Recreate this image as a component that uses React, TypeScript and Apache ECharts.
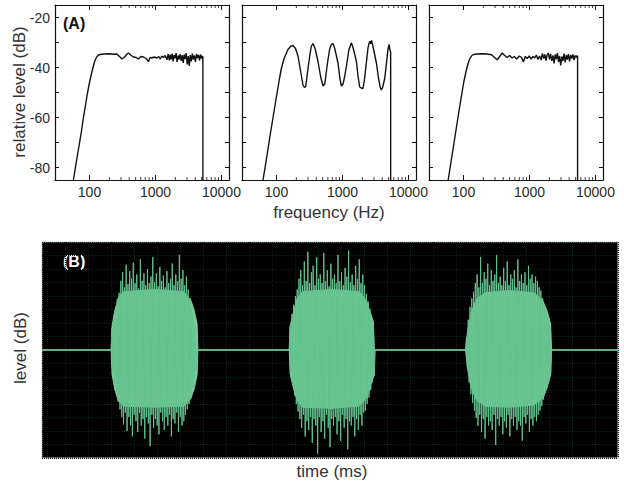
import React, { useEffect, useRef } from "react";
import * as echarts from "echarts";

// ---------- data ----------
const freqMin = 30;
const freqMax = 13000;
const levelMin = -85;
const levelMax = -15;
const minorFreqTicks = [200, 300, 400, 500, 600, 700, 800, 900, 2000, 3000, 4000, 5000, 6000, 7000, 8000, 9000];
const levelTicks = [-80, -70, -60, -50, -40, -30, -20];
const levelLabels = [-80, -60, -40, -20];

// [frequency (Hz), relative level (dB)]
const spectrumLeft: [number, number][] = [
  [54, -90], [57, -85], [62, -79], [68, -72.7], [75, -66], [81, -60], [87, -55], [93, -50.4], [100, -46],
  [109, -41.6], [116, -38.8], [122, -36.9], [130, -35.6], [137, -35.0], [150, -34.7], [170, -34.6], [200, -34.5],
  [230, -34.7], [260, -34.6], [285, -35.6], [310, -36.6], [340, -35.8], [370, -34.6], [390, -34.2], [420, -35.0],
  [464, -35.8], [510, -36.0], [552, -36.6], [600, -35.6], [657, -35.8], [720, -36.4], [783, -37.6], [830, -36.0],
  [881, -36.2], [950, -35.8], [1050, -36.2], [1120, -35.6], [1178, -36.6], [1250, -35.4], [1322, -36.0],
  [1400, -35.2], [1489, -36.9], [1560, -34.6], [1620, -37.2], [1671, -34.9], [1730, -36.8], [1790, -34.4],
  [1850, -37.6], [1910, -35.0], [1980, -36.4], [2050, -34.2], [2120, -37.8], [2200, -35.2], [2280, -36.8],
  [2360, -34.6], [2450, -37.4], [2540, -35.0], [2630, -38.2], [2720, -34.8], [2820, -36.6], [2920, -34.2],
  [3030, -38.8], [3140, -35.4], [3250, -39.4], [3370, -35.0], [3490, -37.6], [3620, -34.4], [3750, -36.8],
  [3890, -35.2], [4030, -37.8], [4180, -34.6], [4330, -36.2], [4490, -35.0], [4650, -37.2], [4820, -34.8],
  [5000, -36.4], [5150, -35.4], [5224, -35.8], [5226, -90],
];

const spectrumMiddle: [number, number][] = [
  [59, -90], [62.4, -85], [70, -77], [79, -68], [88.6, -60], [100, -51.5], [110, -45], [118.6, -40.3],
  [130, -36.5], [149, -32.8], [165, -31.5], [178, -31.2], [195, -32.5], [212, -35.5], [232, -41.5], [252, -47.0],
  [265, -48.0], [277, -47.6], [295, -42], [318, -35.5], [337, -31.5], [357, -30.4], [385, -32.5], [425, -37.5],
  [465, -43.5], [507, -47.4], [540, -46.5], [590, -38.5], [640, -32.5], [679, -30.8], [718, -30.4], [765, -32.5],
  [855, -38.2], [910, -44], [961, -47.4], [1020, -46.6], [1080, -43.5], [1145, -39.6], [1250, -33], [1365, -30.1],
  [1460, -32.5], [1626, -37.6], [1730, -44], [1825, -47.8], [1930, -48.2], [2048, -48.4], [2160, -44.5],
  [2301, -38], [2440, -32], [2583, -29.5], [2680, -30.5], [2760, -29.2], [2838, -30.5], [3000, -33.5],
  [3264, -38.2], [3500, -44], [3700, -47.5], [3883, -49], [4050, -48], [4358, -44.5], [4650, -38], [4870, -33],
  [5070, -30.8], [5250, -33], [5370, -34], [5372, -90],
];

const spectrumRight: [number, number][] = [
  [55, -90], [58.6, -85], [64, -78.5], [70, -72], [77, -65], [83, -59.5], [89, -54.5], [95, -50], [101, -45.8],
  [110, -41.2], [117, -38.5], [124, -36.6], [133, -35.3], [142, -34.8], [160, -34.6], [190, -34.5], [224, -34.6], [267, -34.9],
  [295, -36.0], [324, -36.9], [355, -35.5], [386, -34.2], [420, -35.2], [459, -36.0], [500, -35.2], [545, -36.2],
  [590, -35.6], [640, -36.6], [700, -35.4], [760, -36.0], [810, -37.8], [860, -35.6], [920, -36.4], [990, -35.4],
  [1060, -36.6], [1130, -35.6], [1200, -36.2], [1270, -35.0], [1340, -36.8], [1420, -35.4], [1500, -37.0],
  [1570, -34.4], [1640, -36.4], [1710, -34.8], [1780, -37.2], [1850, -35.0], [1930, -34.2], [2010, -36.8],
  [2090, -34.6], [2180, -37.4], [2270, -35.2], [2360, -38.4], [2450, -34.8], [2550, -36.6], [2650, -34.2],
  [2750, -37.8], [2860, -35.4], [2970, -39.2], [3090, -35.6], [3210, -37.4], [3340, -34.4], [3470, -38.0],
  [3610, -35.0], [3750, -36.8], [3900, -34.6], [4050, -37.6], [4210, -35.0], [4380, -36.4], [4550, -34.8],
  [4730, -37.0], [4920, -35.2], [5100, -36.0], [5250, -35.2], [5355, -35.6], [5357, -90],
];

// waveform (B): time axis in ms, relative amplitude
const timeMax = 650;
const burstStartsMs = [79, 280, 479];
const burst1Pos = [0.20, 0.30, 0.39, 0.47, 0.53, 0.64, 0.72, 0.58, 0.79, 0.61, 0.73, 0.66, 0.81, 0.62, 0.70, 0.57, 0.84, 0.64, 0.71, 0.60, 0.75, 0.62, 0.68, 0.86, 0.63, 0.71, 0.59, 0.77, 0.64, 0.69, 0.58, 0.73, 0.62, 0.66, 0.80, 0.60, 0.70, 0.64, 0.88, 0.66, 0.74, 0.60, 0.68, 0.56, 0.48, 0.40, 0.32, 0.22];
const burst1Neg = [-0.20, -0.31, -0.40, -0.48, -0.55, -0.62, -0.69, -0.58, -0.75, -0.62, -0.70, -0.80, -0.60, -0.66, -0.76, -0.58, -0.70, -0.64, -0.82, -0.62, -0.68, -0.89, -0.60, -0.72, -0.64, -0.70, -0.78, -0.58, -0.66, -0.74, -0.62, -0.70, -0.60, -0.80, -0.64, -0.68, -0.58, -0.76, -0.62, -0.70, -0.66, -0.60, -0.55, -0.50, -0.43, -0.35, -0.27, -0.19];
const burst2Pos = [0.22, 0.33, 0.42, 0.50, 0.56, 0.66, 0.74, 0.60, 0.82, 0.64, 0.91, 0.62, 0.72, 0.78, 0.60, 0.86, 0.66, 0.70, 0.62, 0.90, 0.64, 0.74, 0.59, 0.80, 0.66, 0.70, 0.62, 0.88, 0.64, 0.72, 0.60, 0.76, 0.68, 0.92, 0.63, 0.70, 0.60, 0.78, 0.66, 0.84, 0.62, 0.70, 0.60, 0.52, 0.45, 0.38, 0.30, 0.24];
const burst2Neg = [-0.21, -0.32, -0.42, -0.50, -0.57, -0.64, -0.72, -0.60, -0.80, -0.66, -0.74, -0.62, -0.86, -0.64, -0.70, -0.96, -0.62, -0.76, -0.66, -0.82, -0.60, -0.72, -0.90, -0.64, -0.70, -0.62, -0.78, -0.66, -0.84, -0.60, -0.72, -0.64, -0.92, -0.66, -0.70, -0.62, -0.80, -0.64, -0.74, -0.60, -0.70, -0.58, -0.56, -0.50, -0.44, -0.37, -0.30, -0.24];
const burst3Pos = [0.12, 0.28, 0.40, 0.48, 0.54, 0.62, 0.70, 0.58, 0.86, 0.62, 0.72, 0.66, 0.80, 0.60, 0.74, 0.64, 0.70, 0.88, 0.62, 0.68, 0.60, 0.76, 0.64, 0.82, 0.60, 0.70, 0.66, 0.74, 0.58, 0.84, 0.64, 0.70, 0.62, 0.72, 0.60, 0.78, 0.66, 0.70, 0.62, 0.68, 0.64, 0.58, 0.55, 0.48, 0.42, 0.36, 0.30, 0.22];
const burst3Neg = [-0.16, -0.30, -0.41, -0.49, -0.56, -0.63, -0.70, -0.60, -0.76, -0.64, -0.82, -0.62, -0.70, -0.66, -0.74, -0.60, -0.88, -0.64, -0.70, -0.62, -0.78, -0.66, -0.72, -0.60, -0.80, -0.64, -0.70, -0.62, -0.74, -0.66, -0.70, -0.84, -0.62, -0.68, -0.60, -0.76, -0.64, -0.70, -0.62, -0.66, -0.60, -0.56, -0.52, -0.46, -0.40, -0.34, -0.28, -0.21];

// solid core envelope of each burst: [time (ms), upper, lower]
const core1: [number, number, number][] = [
  [78, 0, 0], [79, 0.22, -0.22], [82, 0.36, -0.36], [86, 0.48, -0.47], [92, 0.54, -0.52], [127, 0.56, -0.53],
  [160, 0.54, -0.52], [168, 0.46, -0.45], [172, 0.36, -0.35], [175, 0.24, -0.23], [176, 0, 0],
];
const core2: [number, number, number][] = [
  [279, 0, 0], [280, 0.22, -0.22], [284, 0.36, -0.36], [288, 0.48, -0.47], [294, 0.54, -0.53], [327, 0.56, -0.54],
  [358, 0.54, -0.52], [366, 0.46, -0.45], [370, 0.36, -0.35], [374, 0.26, -0.25], [375, 0, 0],
];
const core3: [number, number, number][] = [
  [478, 0, 0], [480, 0.16, -0.16], [484, 0.34, -0.34], [490, 0.47, -0.46], [500, 0.53, -0.52], [527, 0.55, -0.53],
  [555, 0.53, -0.51], [565, 0.46, -0.45], [570, 0.36, -0.35], [574, 0.24, -0.23], [575, 0, 0],
];

// ---------- build ----------
const FONT = "'Liberation Sans', Arial, Helvetica, sans-serif";
const INK = "#111";
const LABEL = "#2a2a2a";
const CORE_GREEN = "#7ccd9d";
const SPIKE_GREEN = "#62c18d";

function buildWaveform(): [number, number][] {
  const bursts = [
    { start: burstStartsMs[0], pos: burst1Pos, neg: burst1Neg },
    { start: burstStartsMs[1], pos: burst2Pos, neg: burst2Neg },
    { start: burstStartsMs[2], pos: burst3Pos, neg: burst3Neg },
  ];
  const out: [number, number][] = [[0, 0]];
  bursts.forEach(({ start, pos, neg }) => {
    out.push([start - 1, 0]);
    pos.forEach((p, k) => {
      out.push([start + 2 * k, p]);
      out.push([start + 2 * k + 1, neg[k]]);
    });
    out.push([start + 2 * pos.length, 0]);
  });
  out.push([timeMax, 0]);
  return out;
}

function buildCore(side: 1 | 2): [number, number][] {
  const out: [number, number][] = [[0, 0]];
  [core1, core2, core3].forEach((c) => c.forEach((p) => out.push([p[0], p[side]])));
  out.push([timeMax, 0]);
  return out;
}

function buildOption(): any {
  const panelLefts = [55, 242, 429];
  const panelW = 174;
  const panelTop = 5;
  const panelH = 175;
  const spectra = [spectrumLeft, spectrumMiddle, spectrumRight];

  const grid: any[] = panelLefts.map((l) => ({ left: l, top: panelTop, width: panelW, height: panelH, show: false }));
  grid.push({
    left: 42, top: 242, width: 576, height: 216, show: true,
    backgroundColor: "#000", borderColor: "#c4c4c4", borderWidth: 1,
  });

  const xAxis: any[] = [];
  const yAxis: any[] = [];
  const series: any[] = [];
  const fmt = (v: number) => String(Math.round(v));

  panelLefts.forEach((_, i) => {
    ["bottom", "top"].forEach((pos) => {
      xAxis.push({
        type: "log", logBase: 10, gridIndex: i, position: pos, min: freqMin, max: freqMax,
        axisLine: { show: true, onZero: false, lineStyle: { color: INK, width: 1.2 } },
        axisTick: { show: true, inside: true, length: 5, lineStyle: { color: INK, width: 1 } },
        axisLabel: {
          show: pos === "bottom", formatter: fmt, showMinLabel: false, showMaxLabel: false,
          fontSize: 14, color: LABEL, margin: 5, fontFamily: FONT,
        },
        splitLine: { show: false }, minorTick: { show: false },
      });
    });
    ["left", "right"].forEach((pos) => {
      yAxis.push({
        type: "value", gridIndex: i, position: pos, min: levelMin, max: levelMax,
        axisLine: { show: true, onZero: false, lineStyle: { color: INK, width: 1.2 } },
        axisTick: { show: true, inside: true, length: 4, customValues: levelTicks, lineStyle: { color: INK, width: 1 } },
        axisLabel: {
          show: pos === "left" && i === 0, customValues: levelLabels,
          fontSize: 14, color: LABEL, margin: 5, fontFamily: FONT,
        },
        splitLine: { show: false },
      });
    });
    const xb = i * 2;
    const xt = i * 2 + 1;
    const yl = i * 2;
    series.push({
      type: "line", xAxisIndex: xb, yAxisIndex: yl, data: spectra[i], showSymbol: false, symbol: "none",
      lineStyle: { color: INK, width: 1.4 }, silent: true, clip: true, z: 3,
    });
    series.push({
      type: "scatter", xAxisIndex: xb, yAxisIndex: yl, data: minorFreqTicks.map((f) => [f, levelMin]),
      symbol: "rect", symbolSize: [1, 3], symbolOffset: [0, -1.5], itemStyle: { color: INK },
      silent: true, clip: false, z: 4,
    });
    series.push({
      type: "scatter", xAxisIndex: xt, yAxisIndex: yl, data: minorFreqTicks.map((f) => [f, levelMax]),
      symbol: "rect", symbolSize: [1, 3], symbolOffset: [0, 1.5], itemStyle: { color: INK },
      silent: true, clip: false, z: 4,
    });
  });

  // bottom panel axes
  xAxis.push({
    type: "value", gridIndex: 3, min: 0, max: timeMax,
    axisLine: { show: false }, axisTick: { show: false }, axisLabel: { show: false }, splitLine: { show: false },
  });
  xAxis.push({
    type: "value", gridIndex: 3, min: 0, max: 25, interval: 1,
    axisLine: { show: false }, axisTick: { show: false }, axisLabel: { show: false },
    splitLine: { show: true, lineStyle: { color: "#122016", width: 1, type: "dotted" } },
  });
  yAxis.push({
    type: "value", gridIndex: 3, min: -1, max: 1, interval: 0.125,
    axisLine: { show: false }, axisTick: { show: false }, axisLabel: { show: false },
    splitLine: { show: true, lineStyle: { color: "#122016", width: 1, type: "dotted" } },
  });
  series.push({
    type: "line", xAxisIndex: 6, yAxisIndex: 6, data: buildCore(1), showSymbol: false, symbol: "none",
    lineStyle: { color: CORE_GREEN, width: 1 }, areaStyle: { color: CORE_GREEN, opacity: 1 },
    silent: true, clip: true, z: 2,
  });
  series.push({
    type: "line", xAxisIndex: 6, yAxisIndex: 6, data: buildCore(2), showSymbol: false, symbol: "none",
    lineStyle: { color: CORE_GREEN, width: 1 }, areaStyle: { color: CORE_GREEN, opacity: 1 },
    silent: true, clip: true, z: 2,
  });
  series.push({
    type: "line", xAxisIndex: 6, yAxisIndex: 6, data: buildWaveform(), showSymbol: false, symbol: "none",
    lineStyle: { color: SPIKE_GREEN, width: 1 }, silent: true, clip: true, z: 3,
  });

  const graphic = [
    { type: "text", x: 63, y: 23, style: { text: "(A)", fontSize: 16, fontWeight: "bold", fill: INK, fontFamily: FONT, align: "left", verticalAlign: "middle" } },
    { type: "text", x: 19, y: 92, rotation: Math.PI / 2, style: { text: "relative level (dB)", fontSize: 17, fill: "#333", fontFamily: FONT, align: "center", verticalAlign: "middle" } },
    { type: "text", x: 329, y: 212, style: { text: "frequency (Hz)", fontSize: 17, fill: "#333", fontFamily: FONT, align: "center", verticalAlign: "middle" } },
    { type: "text", x: 63, y: 261, style: { text: "(B)", fontSize: 16, fontWeight: "bold", fill: "#fff", fontFamily: FONT, align: "left", verticalAlign: "middle" } },
    { type: "text", x: 20, y: 348, rotation: Math.PI / 2, style: { text: "level (dB)", fontSize: 17, fill: "#333", fontFamily: FONT, align: "center", verticalAlign: "middle" } },
    { type: "text", x: 332, y: 471, style: { text: "time (ms)", fontSize: 17, fill: "#333", fontFamily: FONT, align: "center", verticalAlign: "middle" } },
  ];

  return {
    animation: false,
    backgroundColor: "#fff",
    textStyle: { fontFamily: FONT },
    grid, xAxis, yAxis, series, graphic,
  };
}

export default function App() {
  const ref = useRef<HTMLDivElement>(null);
  useEffect(() => {
    if (!ref.current) return;
    const chart = echarts.init(ref.current, undefined, { renderer: "svg" });
    chart.setOption(buildOption());
    return () => chart.dispose();
  }, []);
  return (
    <div
      ref={ref}
      style={{ position: "fixed", left: 0, top: 0, width: 624, height: 492, background: "#fff" }}
    />
  );
}
